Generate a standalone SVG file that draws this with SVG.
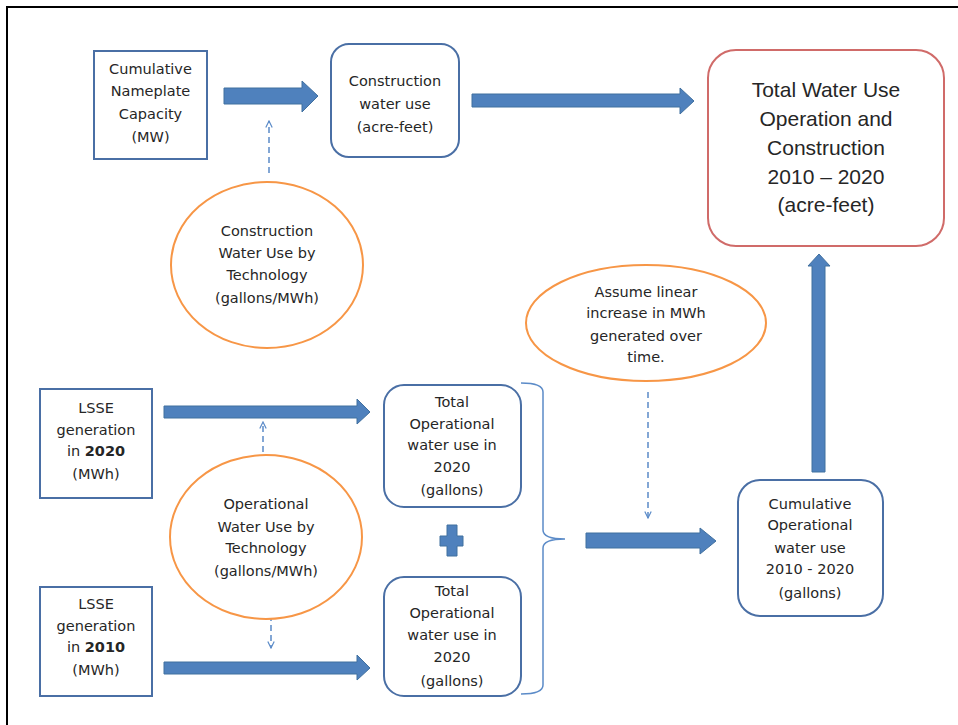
<svg xmlns="http://www.w3.org/2000/svg" width="958" height="725" viewBox="0 0 958 725">
<style>
  .t { font-family: "DejaVu Sans", "Liberation Sans", sans-serif; font-size: 14.5px; fill: #262626; text-anchor: middle; }
  .big { font-family: "Liberation Sans", "DejaVu Sans", sans-serif; font-size: 21px; fill: #262626; text-anchor: middle; }
  .b { font-weight: bold; }
  .box { fill: #ffffff; stroke: #4a6fa5; stroke-width: 2; }
  .red { fill: #ffffff; stroke: #d06b69; stroke-width: 2; }
  .ell { fill: #ffffff; stroke: #f79646; stroke-width: 2; }
  .blk { fill: #4f81bd; stroke: #41709f; stroke-width: 1; }
  .dash { fill: none; stroke: #5b8bc8; stroke-width: 1.5; stroke-dasharray: 6 4; }
  .brace { fill: none; stroke: #5b8bc8; stroke-width: 1.5; }
</style>
<defs>
  <marker id="open" viewBox="0 0 10 10" refX="9" refY="5" markerWidth="8" markerHeight="8" markerUnits="userSpaceOnUse" orient="auto">
    <path d="M1,1 L9,5 L1,9" fill="none" stroke="#5b8bc8" stroke-width="1.5"/>
  </marker>
</defs>
<rect width="958" height="725" fill="#ffffff"/>
<path d="M7,725 V7 H958" fill="none" stroke="#000000" stroke-width="2"/>

<g id="connectors">
  <polygon class="blk" points="224,88 302,88 302,81 318,96 302,112 302,104 224,104"/>
  <polygon class="blk" points="472,94 680,94 680,88 694,101 680,114 680,107 472,107"/>
  <polygon class="blk" points="812,472 812,266 808,266 819,254 830,266 825,266 825,472"/>
  <polygon class="blk" points="164,406 357,406 357,399 370,412 357,424 357,418 164,418"/>
  <polygon class="blk" points="164,662 357,662 357,655 370,668 357,680 357,674 164,674"/>
  <polygon class="blk" points="586,533 700,533 700,528 716,541 700,554 700,548 586,548"/>
  <path class="blk" d="M447,525 H457 V536 H463 V546 H457 V556 H447 V546 H440 V536 H447 Z"/>
  <line class="dash" x1="269" y1="173" x2="269" y2="121" marker-end="url(#open)"/>
  <line class="dash" x1="263" y1="452" x2="263" y2="422" marker-end="url(#open)"/>
  <line class="dash" x1="271" y1="615" x2="271" y2="648" marker-end="url(#open)"/>
  <line class="dash" x1="648" y1="392" x2="648" y2="518" marker-end="url(#open)"/>
  <path class="brace" d="M521,383 Q543,383 543,392 V530 Q543,539 565,539 Q543,539 543,548 V685 Q543,694 521,694"/>
</g>

<g id="cumulative-capacity">
  <rect class="box" x="94" y="51" width="113" height="108"/>
  <text class="t" x="150.5" y="74">Cumulative</text>
  <text class="t" x="150.5" y="96">Nameplate</text>
  <text class="t" x="150.5" y="119">Capacity</text>
  <text class="t" x="150.5" y="142">(MW)</text>
</g>

<g id="construction-water-use">
  <rect class="box" x="331" y="44" width="128" height="113" rx="18"/>
  <text class="t" x="395" y="86">Construction</text>
  <text class="t" x="395" y="109">water use</text>
  <text class="t" x="395" y="132">(acre-feet)</text>
</g>

<g id="total-water-use">
  <rect class="red" x="708" y="50" width="236" height="196" rx="28"/>
  <text class="big" x="826" y="97">Total Water Use</text>
  <text class="big" x="826" y="126">Operation and</text>
  <text class="big" x="826" y="155">Construction</text>
  <text class="big" x="826" y="184">2010 – 2020</text>
  <text class="big" x="826" y="212">(acre-feet)</text>
</g>

<g id="construction-by-technology">
  <ellipse class="ell" cx="267" cy="265" rx="96" ry="83"/>
  <text class="t" x="267" y="236">Construction</text>
  <text class="t" x="267" y="258">Water Use by</text>
  <text class="t" x="267" y="280">Technology</text>
  <text class="t" x="267" y="303">(gallons/MWh)</text>
</g>

<g id="assume-linear">
  <ellipse class="ell" cx="646" cy="323" rx="120" ry="58"/>
  <text class="t" x="646" y="297">Assume linear</text>
  <text class="t" x="646" y="318">increase in MWh</text>
  <text class="t" x="646" y="341">generated over</text>
  <text class="t" x="646" y="362">time.</text>
</g>

<g id="lsse-2020">
  <rect class="box" x="40" y="389" width="112" height="109"/>
  <text class="t" x="96" y="413">LSSE</text>
  <text class="t" x="96" y="435">generation</text>
  <text class="t" x="96" y="456">in <tspan class="b">2020</tspan></text>
  <text class="t" x="96" y="479">(MWh)</text>
</g>

<g id="total-operational-1">
  <rect class="box" x="384" y="385" width="137" height="122" rx="20"/>
  <text class="t" x="452" y="407">Total</text>
  <text class="t" x="452" y="429">Operational</text>
  <text class="t" x="452" y="450">water use in</text>
  <text class="t" x="452" y="472">2020</text>
  <text class="t" x="452" y="495">(gallons)</text>
</g>

<g id="operational-by-technology">
  <ellipse class="ell" cx="266" cy="537" rx="96" ry="82"/>
  <text class="t" x="266" y="509">Operational</text>
  <text class="t" x="266" y="532">Water Use by</text>
  <text class="t" x="266" y="553">Technology</text>
  <text class="t" x="266" y="576">(gallons/MWh)</text>
</g>

<g id="lsse-2010">
  <rect class="box" x="40" y="587" width="112" height="109"/>
  <text class="t" x="96" y="609">LSSE</text>
  <text class="t" x="96" y="631">generation</text>
  <text class="t" x="96" y="652">in <tspan class="b">2010</tspan></text>
  <text class="t" x="96" y="675">(MWh)</text>
</g>

<g id="total-operational-2">
  <rect class="box" x="384" y="577" width="137" height="119" rx="20"/>
  <text class="t" x="452" y="596">Total</text>
  <text class="t" x="452" y="618">Operational</text>
  <text class="t" x="452" y="640">water use in</text>
  <text class="t" x="452" y="662">2020</text>
  <text class="t" x="452" y="686">(gallons)</text>
</g>

<g id="cumulative-operational">
  <rect class="box" x="738" y="480" width="145" height="136" rx="22"/>
  <text class="t" x="810" y="509">Cumulative</text>
  <text class="t" x="810" y="530">Operational</text>
  <text class="t" x="810" y="553">water use</text>
  <text class="t" x="810" y="574">2010 - 2020</text>
  <text class="t" x="810" y="598">(gallons)</text>
</g>
</svg>
